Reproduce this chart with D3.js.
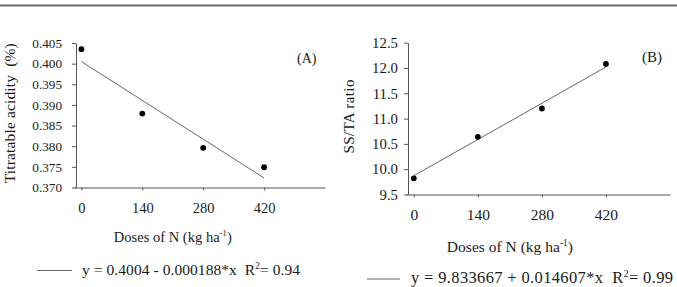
<!DOCTYPE html>
<html>
<head>
<meta charset="utf-8">
<script src="https://cdn.jsdelivr.net/npm/d3@7"></script>
<style>
  body { margin: 0; background: #fff; }
  svg { display: block; font-family: 'Liberation Serif', 'Times New Roman', serif; }
</style>
</head>
<body>
<div id="chart"></div>
<script>
const doses = [0, 140, 280, 420]
const xTicks = [0, 140, 280, 420]

// panel A: titratable acidity (%)
const acidity = [0.4035, 0.3879, 0.3796, 0.3749]
const acidityFit = [[0, 0.4005], [420, 0.3723]]
const acidityTicks = [0.370, 0.375, 0.380, 0.385, 0.390, 0.395, 0.400, 0.405]

// panel B: SS/TA ratio
const ratio = [9.82, 10.64, 11.20, 12.08]
const ratioFit = [[0, 9.87], [420, 12.02]]
const ratioTicks = [9.5, 10.0, 10.5, 11.0, 11.5, 12.0, 12.5]

const width = 677
const height = 287
const axisColor = '#555'
const textColor = '#1a1a1a'

const svg = d3.select('#chart').append('svg')
  .attr('width', width)
  .attr('height', height)

// grey rule across the top
svg.append('line')
  .attr('x1', 0).attr('x2', width)
  .attr('y1', 5.5).attr('y2', 5.5)
  .attr('stroke', '#6a6a6a')
  .attr('stroke-width', 2)

function drawPanel ({ values, fit, yTicks, yFormat, xRange, yRange, yDomain, fontSize, xFontSize, xPad, yPad,
  yLabel, yLabelX, yLabelSize, yLabelLen, tag, tagX, tagY, tagSize, titleY, titleSize, titleLen, legend }) {
  const g = svg.append('g').style('fill', textColor)

  const x = d3.scaleLinear().domain([-17, 560]).range(xRange)
  const y = d3.scaleLinear().domain(yDomain).range(yRange)

  const xAxis = g.append('g')
    .attr('transform', `translate(0,${yRange[0]})`)
    .call(d3.axisBottom(x).tickValues(xTicks).tickSize(3).tickPadding(xPad).tickSizeOuter(0))
  xAxis.select('.domain').attr('stroke', axisColor)
  xAxis.selectAll('.tick line').attr('stroke', axisColor)
  xAxis.selectAll('text')
    .attr('fill', textColor)
    .style('font-size', xFontSize + 'px')
    .style('font-family', "'Liberation Serif', serif")

  const yAxis = g.append('g')
    .attr('transform', `translate(${xRange[0] + 2},0)`)
    .call(d3.axisLeft(y).tickValues(yTicks).tickFormat(yFormat).tickSize(4).tickPadding(yPad).tickSizeOuter(0))
  yAxis.select('.domain').attr('stroke', axisColor)
  yAxis.selectAll('.tick line').attr('stroke', axisColor)
  yAxis.selectAll('text')
    .attr('fill', textColor)
    .style('font-size', fontSize + 'px')
    .style('font-family', "'Liberation Serif', serif")

  // fitted line
  g.append('path')
    .datum(fit)
    .attr('fill', 'none')
    .attr('stroke', '#666')
    .attr('stroke-width', 1)
    .attr('d', d3.line().x(d => x(d[0])).y(d => y(d[1])))

  g.selectAll('.dot')
    .data(values).enter()
    .append('circle')
    .attr('cx', (d, i) => x(doses[i]))
    .attr('cy', d => y(d))
    .attr('r', 2.9)
    .attr('fill', '#000')

  g.append('text')
    .attr('x', tagX)
    .attr('y', tagY)
    .style('font-size', tagSize + 'px')
    .text(tag)

  g.append('text')
    .attr('transform', `translate(${yLabelX},${(yRange[0] + yRange[1]) / 2 - 2}) rotate(-90)`)
    .attr('text-anchor', 'middle')
    .attr('textLength', yLabelLen)
    .style('font-size', yLabelSize + 'px')
    .style('white-space', 'pre')
    .text(yLabel)

  const title = g.append('text')
    .attr('x', x(210) - titleLen / 2)
    .attr('y', titleY)
    .attr('textLength', titleLen)
    .style('font-size', titleSize + 'px')
  title.append('tspan').text('Doses of N (kg ha')
  title.append('tspan').attr('dy', -6).style('font-size', (titleSize * 0.6) + 'px').text('-1')
  title.append('tspan').attr('dy', 6).text(')')

  g.append('line')
    .attr('x1', legend.x1).attr('x2', legend.x2)
    .attr('y1', legend.y).attr('y2', legend.y)
    .attr('stroke', '#666')
    .attr('stroke-width', 1)

  const leg = g.append('text')
    .attr('x', legend.tx)
    .attr('y', legend.ty)
    .attr('textLength', legend.len)
    .style('font-size', legend.size + 'px')
    .style('white-space', 'pre')
  leg.append('tspan').text(legend.eq + '  R')
  leg.append('tspan').attr('dy', -6).style('font-size', (legend.size * 0.6) + 'px').text('2')
  leg.append('tspan').attr('dy', 6).text('= ' + legend.r2)
}

drawPanel({
  values: acidity,
  fit: acidityFit,
  yTicks: acidityTicks,
  yFormat: d3.format('.3f'),
  xRange: [74, 325],
  yRange: [187.5, 43],
  yDomain: [0.370, 0.405],
  fontSize: 13.2,
  xFontSize: 14.5,
  xPad: 12,
  yPad: 10,
  yLabel: 'Titratable acidity  (%)',
  yLabelX: 15,
  yLabelSize: 15.5,
  yLabelLen: 140,
  tag: '(A)',
  tagX: 297,
  tagY: 63,
  tagSize: 14,
  titleY: 242,
  titleSize: 14.5,
  titleLen: 118,
  legend: { x1: 37, x2: 72, y: 270.5, tx: 82, ty: 275, size: 15.5, len: 218, eq: 'y = 0.4004 - 0.000188*x', r2: '0.94' }
})

drawPanel({
  values: ratio,
  fit: ratioFit,
  yTicks: ratioTicks,
  yFormat: d3.format('.1f'),
  xRange: [406, 670],
  yRange: [194.5, 42.7],
  yDomain: [9.5, 12.5],
  fontSize: 14.8,
  xFontSize: 15.5,
  xPad: 11.5,
  yPad: 6,
  yLabel: 'SS/TA ratio',
  yLabelX: 354,
  yLabelSize: 15,
  yLabelLen: 74,
  tag: '(B)',
  tagX: 642,
  tagY: 62,
  tagSize: 15,
  titleY: 252,
  titleSize: 15.5,
  titleLen: 126,
  legend: { x1: 367, x2: 400, y: 279, tx: 411, ty: 283, size: 16.5, len: 262, eq: 'y = 9.833667 + 0.014607*x', r2: '0.99' }
})
</script>
</body>
</html>
